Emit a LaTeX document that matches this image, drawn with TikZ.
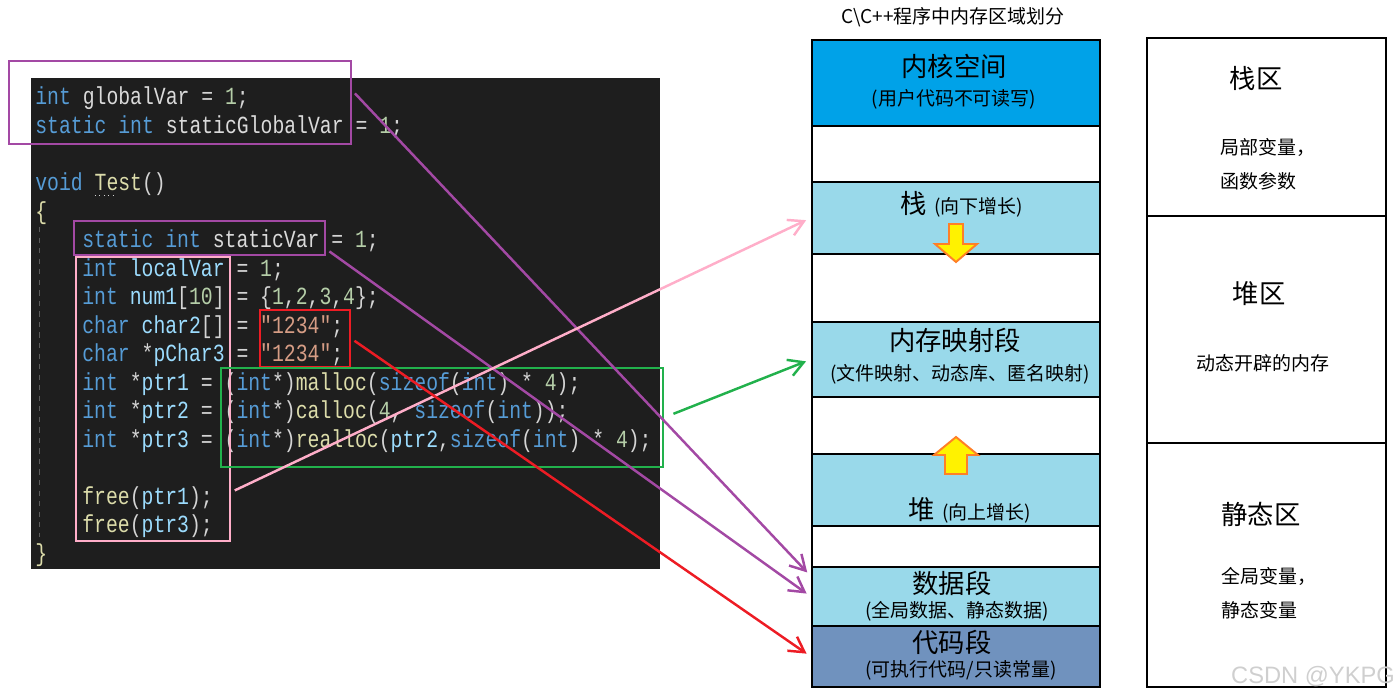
\documentclass[tikz,border=0pt]{standalone}
\usepackage{fontspec}
\setmainfont{Noto Sans CJK SC}
\newfontfamily\codefont[FakeStretch=0.8034]{Liberation Mono}
\newfontfamily\markfont{Liberation Sans}
\usetikzlibrary{arrows.meta,fit}

\definecolor{codebg}{HTML}{1E1E1E}
\definecolor{cop}{HTML}{D4D4D4}
\definecolor{ckw}{HTML}{569CD6}
\definecolor{cvar}{HTML}{9CDCFE}
\definecolor{cglob}{HTML}{DADADA}
\definecolor{cfn}{HTML}{DCDCAA}
\definecolor{cnum}{HTML}{B5CEA8}
\definecolor{cstr}{HTML}{D69D85}
\definecolor{cguide}{HTML}{5A5A5A}
\definecolor{cpurple}{HTML}{A349A4}
\definecolor{cpink}{HTML}{FFAEC9}
\definecolor{cred}{HTML}{ED1C24}
\definecolor{cgreen}{HTML}{22B14C}
\definecolor{ckern}{HTML}{00A2E8}
\definecolor{cseg}{HTML}{99D9EA}
\definecolor{ctext}{HTML}{7092BE}
\definecolor{cyel}{HTML}{FFF200}
\definecolor{corange}{HTML}{FF7F27}
\definecolor{cmark}{HTML}{CFCFCF}

\newcommand\kwd[1]{\textcolor{ckw}{#1}}
\newcommand\vnm[1]{\textcolor{cvar}{#1}}
\newcommand\gvar[1]{\textcolor{cglob}{#1}}
\newcommand\fnc[1]{\textcolor{cfn}{#1}}
\newcommand\numc[1]{\textcolor{cnum}{#1}}
\newcommand\strc[1]{\textcolor{cstr}{#1}}
\newcommand\segbig{\fontsize{15}{17}\selectfont}
\newcommand\segsmall{\fontsize{10.8}{13}\selectfont}

\begin{document}
\begin{tikzpicture}[
    x=0.02cm, y=-0.02cm,
    code/.style={anchor=base west, inner sep=0pt, text=cop, font=\codefont\fontsize{14}{16}\selectfont},
    hl/.style={draw, line width=1.3pt, inner sep=0pt},
    seg/.style={draw, line width=1.5pt, inner sep=0pt},
    big/.style={font=\segbig},
    small/.style={font=\segsmall},
    rtext/.style={align=left, font=\fontsize{10.8}{19.3}\selectfont},
    link/.style={-{Straight Barb[length=0.3cm,width=0.34cm]}, line width=1.4pt, shorten >=0.1cm, shorten <=0.08cm},
    growarrow/.style={fill=cyel, draw=corange, line width=1.1pt}
]
\useasboundingbox (0,0) rectangle (1399,699);
\fill[codebg] (31,78) rectangle (660,569);
\draw[cguide, dashed, line width=0.4pt] (39,227) -- (39,537);
\draw[cop, dotted, line width=0.5pt] (95,195) -- (115,195);

\node[code] (l1) at (35,105) {\kwd{int} \gvar{globalVar} = \numc{1};};
\node[code] (l2) at (35,133.5) {\kwd{static} \kwd{int} \gvar{staticGlobalVar} = \numc{1};};
\node[code] (l3) at (35,190.5) {\kwd{void} \fnc{Test}()};
\node[code] (l4) at (35,219) {\fnc{\{}};
\node[code] (l5) at (82,247.5) {\kwd{static} \kwd{int} \gvar{staticVar} = \numc{1};};
\node[code] (l6) at (82,276) {\kwd{int} \vnm{localVar} = \numc{1};};
\node[code] (l7) at (82,304.5) {\kwd{int} \vnm{num1}[\numc{10}] = \{\numc{1},\numc{2},\numc{3},\numc{4}\};};
\node[code] (l8) at (82,333) {\kwd{char} \vnm{char2}[] = \strc{"1234"};};
\node[code] (l9) at (82,361.5) {\kwd{char} *\vnm{pChar3} = \strc{"1234"};};
\node[code] (l10) at (82,390) {\kwd{int} *\vnm{ptr1} = (\kwd{int}*)\fnc{malloc}(\kwd{sizeof}(\kwd{int}) * \numc{4});};
\node[code] (l11) at (82,418.5) {\kwd{int} *\vnm{ptr2} = (\kwd{int}*)\fnc{calloc}(\numc{4}, \kwd{sizeof}(\kwd{int}));};
\node[code] (l12) at (82,447) {\kwd{int} *\vnm{ptr3} = (\kwd{int}*)\fnc{realloc}(\vnm{ptr2},\kwd{sizeof}(\kwd{int}) * \numc{4});};
\node[code] (l13) at (82,504) {\fnc{free}(\vnm{ptr1});};
\node[code] (l14) at (82,532.5) {\fnc{free}(\vnm{ptr3});};
\node[code] (l15) at (35,561) {\fnc{\}}};

\node[hl, draw=cpurple, fit={(9,61) (351,144)}] (gbox) {};
\node[hl, draw=cpurple, fit={(74,221) (325,255)}] (svbox) {};
\node[hl, draw=cpink, fit={(76,257) (230,541)}] (lbox) {};
\node[hl, draw=cred, fit={(260,310) (350,367)}] (sbox) {};
\node[hl, draw=cgreen, fit={(221,368) (663,467)}] (mbox) {};

\node[font=\segsmall] (title) at (953,17) {C\textbackslash C++程序中内存区域划分};
\node[seg, fill=ckern, fit={(812,40) (1100,126)}] (kernel) {};
\node[seg, fill=white, fit={(812,126) (1100,182)}] (gapA) {};
\node[seg, fill=cseg, fit={(812,182) (1100,254)}] (stack) {};
\node[seg, fill=white, fit={(812,254) (1100,322)}] (gapB) {};
\node[seg, fill=cseg, fit={(812,322) (1100,397)}] (mmap) {};
\node[seg, fill=white, fit={(812,397) (1100,454)}] (gapC) {};
\node[seg, fill=cseg, fit={(812,454) (1100,526)}] (heap) {};
\node[seg, fill=white, fit={(812,526) (1100,567)}] (gapD) {};
\node[seg, fill=cseg, fit={(812,567) (1100,626)}] (data) {};
\node[seg, fill=ctext, fit={(812,626) (1100,687)}] (codeseg) {};

\node[big] (kernelT) at (954,66) {内核空间};
\node[small] (kernelS) at (954,99) {(用户代码不可读写)};
\node[anchor=base] (stackT) at (962,214) {{\segbig 栈}\hspace{4pt}{\segsmall (向下增长)}};
\node[big] (mmapT) at (955,340) {内存映射段};
\node[small] (mmapS) at (960,374) {(文件映射、动态库、匿名映射)};
\node[anchor=base] (heapT) at (970,519) {{\segbig 堆}\hspace{4pt}{\segsmall (向上增长)}};
\node[big] (dataT) at (952,583.5) {数据段};
\node[small] (dataS) at (957,611) {(全局数据、静态数据)};
\node[big] (codeT) at (952,642.5) {代码段};
\node[small] (codeS) at (961,670) {(可执行代码/只读常量)};

\filldraw[growarrow] (949,224) -- (963,224) -- (963,244) -- (977,244) -- (956,262) -- (935,244) -- (949,244) -- cycle;
\filldraw[growarrow] (945,474) -- (967,474) -- (967,455) -- (978,455) -- (956,437) -- (934,455) -- (945,455) -- cycle;

\node[seg, fit={(1147,38) (1386,216)}] (rstack) {};
\node[seg, fit={(1147,216) (1386,443)}] (rheap) {};
\node[seg, fit={(1147,443) (1386,687)}] (rstatic) {};
\node[big] (rstackT) at (1256,78) {栈区};
\node[rtext] (rstackD) at (1268,164) {局部变量，\\函数参数};
\node[big] (rheapT) at (1259,294) {堆区};
\node[small] (rheapD) at (1263,363) {动态开辟的内存};
\node[big] (rstaticT) at (1261,514) {静态区};
\node[rtext] (rstaticD) at (1269,593) {全局变量，\\静态变量};
\node[text=cmark, font=\markfont\fontsize{13.5}{15}\selectfont] (mark) at (1313,677) {CSDN @YKPG};

\draw[link, cpurple] (gbox.4) -- (data.172);
\draw[link, cpurple] (svbox.-5) -- (data.west);
\draw[link, cpink] (lbox.-50) -- (stack.west);
\draw[link, cgreen, shorten <=0.2cm] (mbox.east) -- (mmap.west);
\draw[link, cred] (sbox.east) -- (codeseg.west);
\end{tikzpicture}
\end{document}
